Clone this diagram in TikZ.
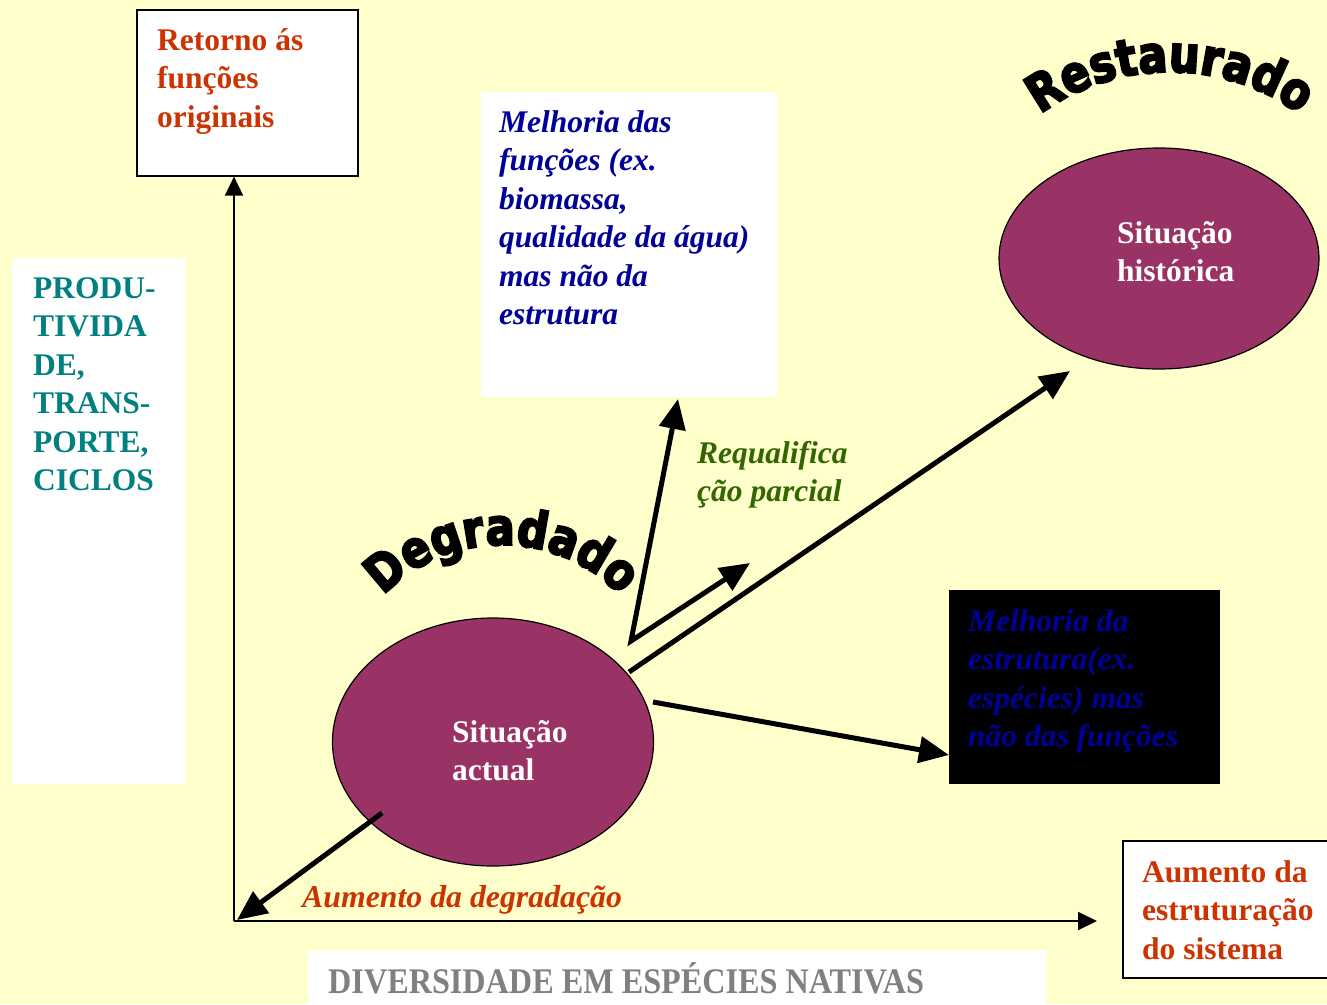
\documentclass[tikz,border=0pt]{standalone}
\usepackage{fontspec}
\setmainfont{Liberation Serif}
\newfontfamily\arcfont[FakeBold=4,FakeStretch=0.84]{DejaVu Sans Bold}
\usetikzlibrary{arrows.meta,decorations.text,shapes.geometric}
\definecolor{bg}{RGB}{255,255,204}
\definecolor{plum}{RGB}{153,51,102}
\definecolor{rust}{RGB}{204,51,0}
\definecolor{navyt}{RGB}{0,0,153}
\definecolor{tealt}{RGB}{0,128,128}
\definecolor{olivet}{RGB}{51,102,0}
\definecolor{greyt}{RGB}{128,128,128}
\tikzset{
  txt/.style={anchor=north west, inner sep=0pt, align=left, font=\fontsize{31.5}{38.5}\selectfont\bfseries},
  itxt/.style={anchor=north west, inner sep=0pt, align=left, font=\fontsize{31.5}{38.5}\selectfont\bfseries\itshape},
  framedbox/.style={draw=black, line width=1.6pt, fill=white, anchor=north west, inner sep=0pt},
  plainbox/.style={fill=white, anchor=north west, inner sep=0pt},
  situ/.style={ellipse, draw=black, line width=1.2pt, fill=plum, inner sep=0pt},
  bigarrow/.style={line width=5pt, -{Triangle[length=30pt,width=26pt]}},
  axisarrow/.style={line width=1.8pt, -{Triangle[length=19pt,width=18pt]}},
  arcword/.style={decorate, decoration={text along path, text align=center, text={|\fontsize{51}{56}\arcfont|#1}}}
}
\begin{document}
\begin{tikzpicture}[x=1pt,y=-1pt]
\useasboundingbox (0,0) rectangle (1327,1004);
\fill[bg] (0,0) rectangle (1327,1004);

% boxes
\node[framedbox, minimum width=221pt, minimum height=166pt] (retbox) at (136,9) {};
\node[plainbox, minimum width=173pt, minimum height=526pt] (prodbox) at (12,258) {};
\node[plainbox, minimum width=296pt, minimum height=305pt] (melbox) at (481,92) {};
\node[fill=black, anchor=north west, inner sep=0pt, minimum width=271pt, minimum height=194pt] (blkbox) at (949,590) {};
\node[framedbox, minimum width=230pt, minimum height=137pt] (aumbox) at (1122,840) {};
\node[plainbox, minimum width=738pt, minimum height=70pt] (divbox) at (308,950) {};

% ellipses
\node[situ, minimum width=321pt, minimum height=248pt] (actual) at (493,742) {};
\node[situ, minimum width=320pt, minimum height=221pt] (hist) at (1159,258.5) {};

% texts
\node[txt, text=rust] (rettxt) at (157,23) {\strut Retorno ás\\funções\\originais};
\node[txt, text=tealt] (prodtxt) at (33,271) {\strut PRODU-\\TIVIDA\\DE,\\TRANS-\\PORTE,\\CICLOS};
\node[itxt, text=navyt] (meltxt) at (499,105) {\strut Melhoria das\\funções (ex.\\biomassa,\\qualidade da água)\\mas não da\\estrutura};
\node[txt, text=white] (acttxt) at (452,715) {\strut Situação\\actual};
\node[txt, text=white] (histtxt) at (1117,216) {\strut Situação\\histórica};
\node[itxt, text=navyt] (blktxt) at (968,604) {\strut Melhoria da\\estrutura(ex.\\espécies) mas\\não das funções};
\node[itxt, text=olivet] (reqtxt) at (697,436) {\strut Requalifica\\ção parcial};
\node[txt, text=rust] (aumtxt) at (1142,855) {\strut Aumento da\\estruturação\\do sistema};
\node[anchor=base west, inner sep=0pt, text=rust, font=\fontsize{31.8}{38.5}\selectfont\bfseries\itshape] (degtxt) at (302,907) {Aumento da degradação};
\node[anchor=base west, inner sep=0pt, text=greyt, font=\fontsize{36}{40}\selectfont\bfseries] (divtxt) at (328,993) {\scalebox{0.895}[1]{DIVERSIDADE EM ESPÉCIES NATIVAS}};

% arched words
\path[arcword=Degradado] (502,709) ++(200:164) arc[start angle=200, end angle=340, radius=164];
\path[arcword=Restaurado] (1170,292) ++(225:220) arc[start angle=225, end angle=315, radius=220];

% axes
\coordinate (origin) at (234,921);
\coordinate (xend) at (1097,921);
\draw[axisarrow] (origin) -- (origin |- retbox.south);
\draw[axisarrow] (origin) -- (xend);

% arrows
\coordinate (vtx) at (631,641);
\coordinate (upTip) at (678,399);
\coordinate (midTip) at (750,563);
\draw[line width=5pt, line join=miter, {Triangle[length=30pt,width=26pt]}-{Triangle[length=30pt,width=26pt]}] (upTip) -- (vtx) -- (midTip);
\coordinate (longStart) at (629,672);
\coordinate (histTip) at (1070,371);
\draw[bigarrow] (longStart) -- (histTip);
\coordinate (blkStart) at (653,702);
\draw[bigarrow] (blkStart) -- (blkbox.west |- 0,755);
\coordinate (degStart) at (382,813);
\draw[bigarrow] (degStart) -- (237,920);
\end{tikzpicture}
\end{document}
